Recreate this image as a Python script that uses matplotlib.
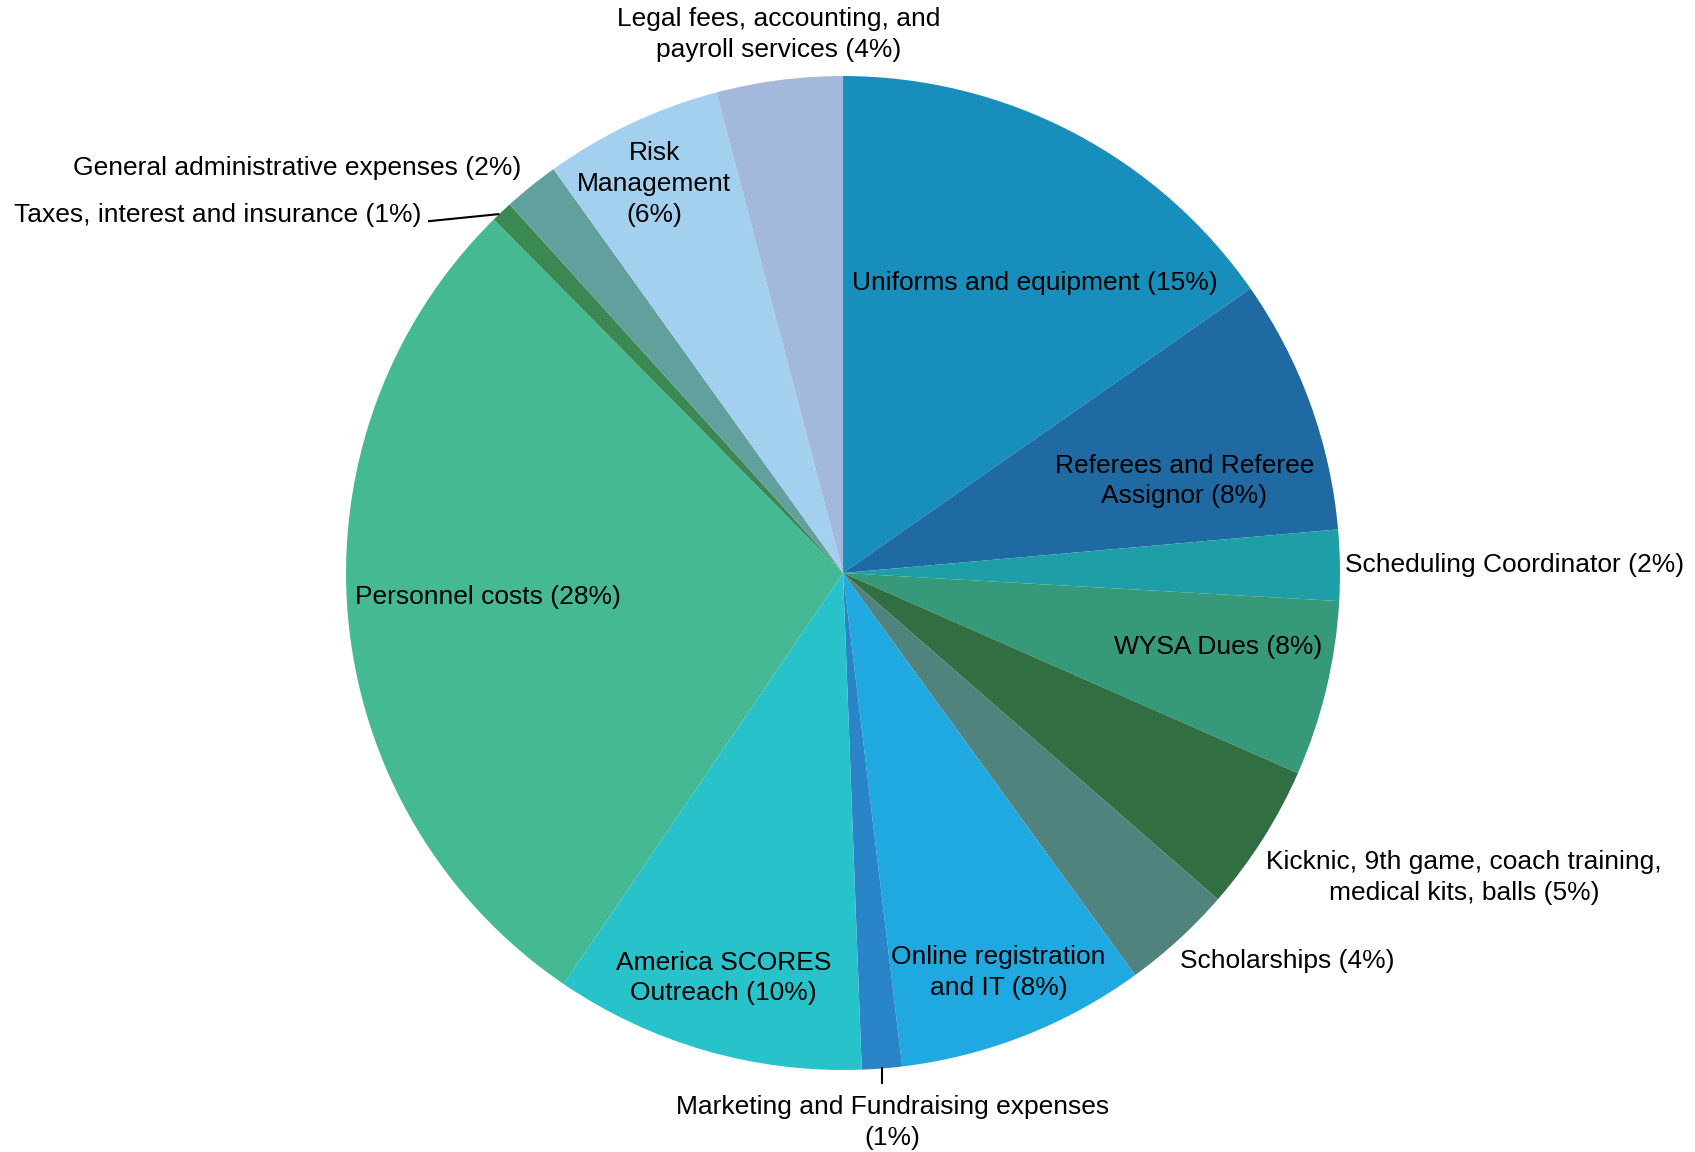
import numpy as np
import matplotlib
matplotlib.use("Agg")
import matplotlib.pyplot as plt

plt.rcParams["font.family"] = ["Liberation Sans", "DejaVu Sans"]

# Budget shares
categories = [
    "Uniforms and equipment (15%)",
    "Referees and Referee\nAssignor (8%)",
    "Scheduling Coordinator (2%)",
    "WYSA Dues (8%)",
    "Kicknic, 9th game, coach training,\nmedical kits, balls (5%)",
    "Scholarships (4%)",
    "Online registration\nand IT (8%)",
    "Marketing and Fundraising expenses\n(1%)",
    "America SCORES\nOutreach (10%)",
    "Personnel costs (28%)",
    "Taxes, interest and insurance (1%)",
    "General administrative expenses (2%)",
    "Risk\nManagement\n(6%)",
    "Legal fees, accounting, and\npayroll services (4%)",
]
values = [15.3, 8.3, 2.3, 5.7, 4.8, 3.6, 8.1, 1.3, 10.1, 28.1, 0.7, 1.8, 5.8, 4.1]
colors = ["#178EBB", "#1F6AA2", "#1E9EA6", "#36997A", "#316E42", "#50837E",
          "#1FA9E0", "#2A84C8", "#28C2CA", "#44B994", "#3B8852", "#62A09D",
          "#A3D0EE", "#A2B9DB"]

# label placement in pie-radius units: (x, y, ha)
label_pos = [
    (0.385, 0.583, "center"),
    (0.687, 0.185, "center"),
    (1.011, 0.017, "left"),
    (0.754, -0.148, "center"),
    (1.250, -0.613, "center"),
    (0.894, -0.780, "center"),
    (0.313, -0.804, "center"),
    (0.100, -1.105, "center"),
    (-0.241, -0.815, "center"),
    (-0.715, -0.048, "center"),
    (-0.848, 0.720, "right"),
    (-0.648, 0.815, "right"),
    (-0.380, 0.783, "center"),
    (-0.130, 1.083, "center"),
]

fig = plt.figure(figsize=(16.95, 11.52), dpi=100)
ax = fig.add_axes([0, 0, 1, 1])
wedges, _ = ax.pie(values, colors=colors, startangle=90, counterclock=False,
                   radius=1.0, center=(0, 0),
                   wedgeprops=dict(linewidth=0, antialiased=True))
ax.set_xlim(-1.696, 1.714)
ax.set_ylim(-1.165, 1.153)
ax.set_aspect("equal")
ax.axis("off")

for i, (txt, (x, y, ha)) in enumerate(zip(categories, label_pos)):
    ax.text(x, y, txt, ha=ha, va="center", fontsize=19, color="black",
            multialignment="center", linespacing=1.35)

# leader line: marketing (short vertical tick below the slice)
w = wedges[7]
mid = np.deg2rad((w.theta1 + w.theta2) / 2)
ax.plot([np.cos(mid), np.cos(mid)], [np.sin(mid), np.sin(mid) - 0.03],
        color="black", lw=1.5)

# leader line: taxes (from label end to slice edge)
w = wedges[10]
mid = np.deg2rad((w.theta1 + w.theta2) / 2)
x0, y0, _ = label_pos[10]
ax.plot([x0 + 0.015, np.cos(mid) * 1.01], [y0 - 0.012, np.sin(mid) * 1.01 - 0.012],
        color="black", lw=1.5)

fig.savefig("out.png", dpi=100)
